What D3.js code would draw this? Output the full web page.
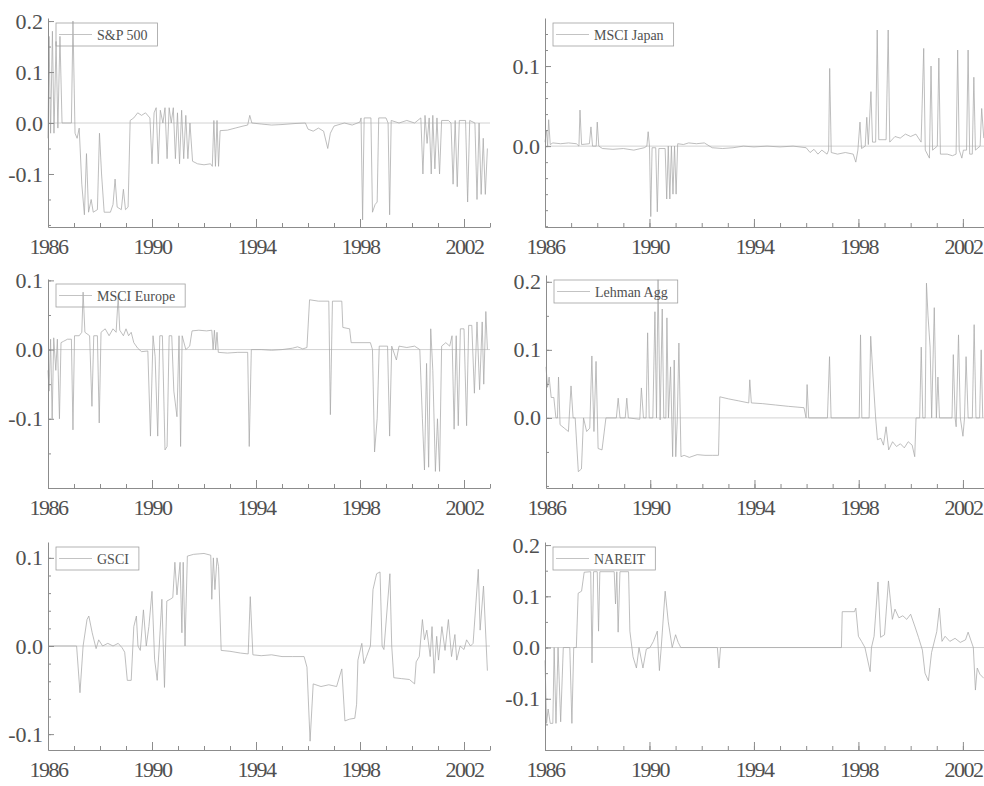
<!DOCTYPE html>
<head>
<meta charset="utf-8">
<style>

body { margin: 0; background: #fff; }
svg { display: block; }

.axis path, .axis line {
  stroke: #8c8c8c;
  stroke-width: 1px;
}

.zero {
  stroke: #d2d2d2;
  stroke-width: 1px;
}

.series {
  fill: none;
  stroke: #a8a8a8;
  stroke-width: 0.75px;
}

text {
  font-family: "Liberation Serif", "Times New Roman", serif;
  fill: #505050;
}

.legend rect {
  fill: none;
  stroke: #a0a0a0;
  stroke-width: 0.8px;
}

</style>
</head>

<body>
<script src="https://d3js.org/d3.v7.min.js"></script>

<script>
  // labelled years on every x axis, minor ticks every year
  var yearTicks = [1986, 1990, 1994, 1998, 2002];
  var yearMinor = d3.range(1986, 2004);

  var seriesNames = ["S&P 500", "MSCI Japan", "MSCI Europe", "Lehman Agg", "GSCI", "NAREIT"];

  // [year, value] pairs
  var sp500 = [
    [1986.00,-0.03],[1986.04,0.17],[1986.10,-0.02],[1986.17,0.18],[1986.23,-0.02],[1986.31,0.16],[1986.38,-0.01],
    [1986.46,0.17],[1986.54,0.0],[1986.62,0.0],[1986.90,0.0],[1986.96,0.2],[1987.04,-0.02],[1987.12,-0.03],
    [1987.2,-0.01],[1987.3,-0.12],[1987.4,-0.18],[1987.48,-0.06],[1987.56,-0.175],[1987.66,-0.15],[1987.74,-0.175],
    [1987.9,-0.17],[1987.98,-0.02],[1988.06,-0.1],[1988.16,-0.175],[1988.4,-0.175],[1988.5,-0.16],[1988.58,-0.11],
    [1988.66,-0.165],[1988.82,-0.17],[1988.9,-0.13],[1988.98,-0.17],[1989.08,-0.165],[1989.16,0.005],[1989.3,0.01],
    [1989.45,0.02],[1989.6,0.015],[1989.75,0.02],[1989.92,0.01],[1990.0,-0.08],[1990.08,0.02],[1990.16,0.03],
    [1990.24,-0.08],[1990.32,0.025],[1990.42,0.0],[1990.5,0.03],[1990.58,-0.07],[1990.66,0.03],[1990.74,0.0],
    [1990.82,0.03],[1990.9,-0.07],[1990.98,0.02],[1991.06,-0.08],[1991.14,0.025],[1991.22,-0.07],[1991.3,0.015],
    [1991.38,-0.07],[1991.46,0.0],[1991.56,-0.075],[1991.75,-0.08],[1992.0,-0.082],[1992.25,-0.08],[1992.32,-0.085],
    [1992.38,0.005],[1992.44,-0.085],[1992.5,0.005],[1992.56,-0.085],[1992.62,-0.015],[1992.9,-0.014],[1993.2,-0.01],
    [1993.5,-0.006],[1993.68,-0.004],[1993.76,0.015],[1993.84,0.0],[1994.2,-0.002],[1994.6,-0.004],[1995.0,-0.003],
    [1995.5,-0.001],[1995.9,0.0],[1996.0,-0.012],[1996.2,-0.016],[1996.4,-0.01],[1996.6,-0.016],[1996.76,-0.05],
    [1996.86,-0.02],[1997.0,-0.006],[1997.4,0.0],[1997.7,-0.004],[1998.0,0.002],[1998.04,0.01],[1998.1,-0.19],
    [1998.16,0.01],[1998.42,0.01],[1998.48,-0.175],[1998.58,-0.16],[1998.66,-0.155],[1998.72,0.01],[1999.0,0.01],
    [1999.08,0.0],[1999.14,-0.18],[1999.2,0.005],[1999.5,0.0],[1999.8,0.005],[2000.1,0.0],[2000.34,0.01],
    [2000.42,-0.1],[2000.5,0.015],[2000.58,-0.04],[2000.66,0.01],[2000.74,-0.1],[2000.8,0.015],[2000.88,-0.09],
    [2000.96,0.01],[2001.06,-0.1],[2001.14,0.005],[2001.4,0.005],[2001.5,0.0],[2001.58,-0.12],[2001.66,0.005],
    [2001.74,-0.125],[2001.82,0.005],[2002.06,0.005],[2002.14,-0.155],[2002.22,0.005],[2002.42,0.0],[2002.5,-0.15],
    [2002.58,0.0],[2002.66,-0.14],[2002.74,-0.03],[2002.82,-0.14],[2002.9,-0.05]
  ];

  var msciJapan = [
    [1986.0,0.005],[1986.06,0.02],[1986.1,0.0],[1986.14,0.033],[1986.2,0.002],[1986.3,0.004],[1986.6,0.003],
    [1986.9,0.004],[1987.2,0.003],[1987.3,0.0],[1987.34,0.045],[1987.4,0.002],[1987.7,0.003],[1987.76,0.024],
    [1987.82,0.0],[1987.96,0.0],[1988.0,0.03],[1988.06,0.0],[1988.2,-0.003],[1988.6,-0.004],[1989.0,-0.003],
    [1989.4,-0.005],[1989.8,-0.002],[1989.9,0.0],[1989.95,0.018],[1990.0,0.0],[1990.05,-0.088],[1990.1,-0.002],
    [1990.24,-0.002],[1990.3,-0.082],[1990.36,-0.003],[1990.6,-0.003],[1990.66,-0.066],[1990.72,0.0],[1990.78,-0.066],
    [1990.84,0.0],[1990.9,-0.06],[1990.96,0.0],[1991.02,-0.06],[1991.08,0.003],[1991.3,0.002],[1991.5,0.004],
    [1991.8,0.003],[1992.1,0.004],[1992.4,-0.002],[1992.8,-0.003],[1993.2,-0.002],[1993.6,0.0],[1994.0,-0.001],
    [1994.5,0.0],[1995.0,-0.001],[1995.5,0.0],[1996.0,-0.002],[1996.15,-0.008],[1996.3,-0.004],[1996.45,-0.01],
    [1996.6,-0.005],[1996.8,-0.01],[1996.86,-0.005],[1996.9,0.097],[1996.96,-0.008],[1997.2,-0.01],[1997.5,-0.008],
    [1997.8,-0.01],[1997.9,-0.02],[1997.98,-0.005],[1998.06,0.03],[1998.12,-0.003],[1998.26,0.0],[1998.32,0.036],
    [1998.38,0.002],[1998.48,0.068],[1998.54,0.005],[1998.66,0.005],[1998.72,0.145],[1998.78,0.008],[1999.06,0.008],
    [1999.14,0.145],[1999.2,0.005],[1999.4,0.012],[1999.6,0.01],[1999.8,0.015],[2000.0,0.012],[2000.2,0.015],
    [2000.4,0.005],[2000.5,0.122],[2000.56,-0.005],[2000.72,-0.015],[2000.78,0.1],[2000.84,-0.005],[2001.02,0.0],
    [2001.08,0.11],[2001.14,-0.01],[2001.4,-0.01],[2001.6,-0.012],[2001.74,-0.01],[2001.8,0.12],[2001.86,-0.005],
    [2001.96,-0.015],[2002.02,-0.005],[2002.14,-0.005],[2002.2,0.12],[2002.26,-0.01],[2002.36,-0.01],[2002.42,0.086],
    [2002.48,-0.005],[2002.66,0.0],[2002.72,0.047],[2002.8,0.01]
  ];

  var msciEurope = [
    [1986.0,-0.03],[1986.04,-0.06],[1986.1,0.015],[1986.16,-0.1],[1986.22,0.017],[1986.3,-0.03],[1986.36,0.015],
    [1986.44,-0.1],[1986.5,0.01],[1986.6,0.012],[1986.75,0.015],[1986.9,0.015],[1986.96,-0.116],[1987.02,0.02],
    [1987.2,0.02],[1987.3,0.025],[1987.35,0.083],[1987.42,0.025],[1987.6,0.02],[1987.69,-0.082],[1987.76,0.02],
    [1987.9,0.02],[1987.97,-0.106],[1988.04,0.025],[1988.2,0.03],[1988.35,0.02],[1988.5,0.03],[1988.62,0.025],
    [1988.7,0.077],[1988.76,0.028],[1988.9,0.02],[1989.0,0.03],[1989.1,0.02],[1989.2,0.025],[1989.3,0.01],
    [1989.45,0.002],[1989.6,-0.003],[1989.84,-0.002],[1989.94,-0.125],[1990.04,0.02],[1990.12,-0.01],
    [1990.22,-0.125],[1990.3,0.02],[1990.4,0.02],[1990.5,-0.145],[1990.58,-0.14],[1990.66,0.02],[1990.76,0.02],
    [1990.84,-0.06],[1990.96,-0.097],[1991.04,0.02],[1991.1,-0.14],[1991.16,0.02],[1991.3,0.0],[1991.45,0.005],
    [1991.54,0.027],[1991.8,0.028],[1992.1,0.027],[1992.3,0.028],[1992.35,0.0],[1992.4,0.028],[1992.45,0.0],
    [1992.5,0.025],[1992.55,-0.004],[1992.9,-0.005],[1993.3,-0.004],[1993.68,-0.004],[1993.74,-0.14],[1993.82,0.0],
    [1994.2,0.0],[1994.6,-0.001],[1995.0,0.0],[1995.4,0.002],[1995.6,0.004],[1995.8,0.001],[1995.96,0.003],
    [1996.06,0.072],[1996.4,0.07],[1996.8,0.07],[1996.86,-0.094],[1996.94,0.07],[1997.3,0.07],[1997.34,0.032],
    [1997.6,0.03],[1997.66,0.01],[1998.0,0.01],[1998.4,0.01],[1998.48,0.0],[1998.56,-0.148],[1998.66,-0.1],
    [1998.74,0.005],[1999.06,0.005],[1999.14,-0.125],[1999.22,0.005],[1999.4,-0.015],[1999.5,0.005],[1999.8,0.003],
    [2000.1,0.005],[2000.3,0.0],[2000.4,-0.1],[2000.48,-0.174],[2000.56,-0.02],[2000.64,-0.17],[2000.72,0.03],
    [2000.8,-0.03],[2000.9,-0.176],[2000.98,-0.1],[2001.06,-0.176],[2001.14,0.005],[2001.3,0.01],[2001.45,0.005],
    [2001.54,0.02],[2001.62,-0.115],[2001.7,0.02],[2001.78,-0.11],[2001.86,0.03],[2002.0,0.03],[2002.1,-0.11],
    [2002.18,0.035],[2002.3,0.035],[2002.4,-0.063],[2002.5,0.04],[2002.6,-0.058],[2002.7,0.04],[2002.76,-0.05],
    [2002.84,0.055],[2002.9,0.0]
  ];

  var lehmanAgg = [
    [1986.0,0.075],[1986.06,0.045],[1986.12,0.06],[1986.2,0.03],[1986.3,0.03],[1986.38,0.0],[1986.44,0.0],
    [1986.48,0.06],[1986.54,-0.01],[1986.7,-0.015],[1986.86,-0.02],[1986.96,0.047],[1987.04,0.0],[1987.12,0.0],
    [1987.24,-0.079],[1987.36,-0.075],[1987.44,0.0],[1987.56,-0.02],[1987.68,-0.015],[1987.76,0.091],[1987.84,-0.02],
    [1987.92,0.083],[1988.0,-0.045],[1988.15,-0.047],[1988.3,0.0],[1988.7,0.0],[1988.77,0.029],[1988.84,0.0],
    [1989.04,0.0],[1989.1,0.029],[1989.16,0.0],[1989.6,-0.002],[1989.66,0.044],[1989.74,0.0],[1989.84,0.0],
    [1989.9,0.125],[1989.96,0.0],[1990.1,0.0],[1990.18,0.156],[1990.24,0.0],[1990.3,0.203],[1990.38,-0.003],
    [1990.46,0.16],[1990.52,0.0],[1990.6,0.0],[1990.64,0.147],[1990.7,0.0],[1990.78,0.075],[1990.86,-0.057],
    [1990.92,0.085],[1990.98,-0.057],[1991.04,0.0],[1991.1,0.11],[1991.18,-0.057],[1991.3,-0.055],[1991.5,-0.058],
    [1991.8,-0.054],[1992.1,-0.055],[1992.4,-0.055],[1992.62,-0.055],[1992.67,0.031],[1993.0,0.028],[1993.4,0.025],
    [1993.78,0.022],[1993.82,0.056],[1993.88,0.022],[1994.3,0.021],[1994.8,0.019],[1995.3,0.017],[1995.9,0.015],
    [1995.98,0.0],[1996.02,0.049],[1996.08,0.0],[1996.8,0.0],[1996.88,0.09],[1996.94,0.0],[1998.02,0.0],
    [1998.07,0.122],[1998.12,0.0],[1998.4,0.0],[1998.46,0.12],[1998.55,0.06],[1998.65,0.0],[1998.72,-0.032],
    [1998.85,-0.03],[1998.95,-0.04],[1999.05,-0.013],[1999.15,-0.047],[1999.3,-0.035],[1999.45,-0.042],
    [1999.6,-0.038],[1999.75,-0.044],[1999.9,-0.035],[2000.05,-0.04],[2000.15,-0.057],[2000.2,0.0],[2000.34,0.0],
    [2000.4,0.104],[2000.46,0.0],[2000.55,0.0],[2000.6,0.198],[2000.66,0.15],[2000.74,0.104],[2000.8,0.0],
    [2000.9,0.162],[2000.98,0.0],[2001.04,0.06],[2001.1,0.0],[2001.58,0.0],[2001.63,0.093],[2001.7,0.0],
    [2001.74,-0.013],[2001.83,0.122],[2001.9,0.0],[2002.0,-0.027],[2002.06,0.0],[2002.12,0.09],[2002.2,0.0],
    [2002.36,0.0],[2002.43,0.137],[2002.5,0.0],[2002.64,0.0],[2002.7,0.1],[2002.76,0.0]
  ];

  var gsci = [
    [1986.0,0.0],[1987.1,0.0],[1987.23,-0.053],[1987.35,0.0],[1987.5,0.03],[1987.57,0.034],[1987.7,0.015],
    [1987.85,-0.003],[1987.95,0.007],[1988.1,0.0],[1988.3,0.003],[1988.5,0.0],[1988.7,0.003],[1988.85,-0.002],
    [1988.95,-0.007],[1989.05,-0.039],[1989.2,-0.039],[1989.3,0.022],[1989.4,0.034],[1989.46,0.0],[1989.55,-0.005],
    [1989.67,0.041],[1989.78,0.0],[1989.88,0.022],[1990.0,0.062],[1990.1,-0.015],[1990.2,-0.039],[1990.28,0.0],
    [1990.38,0.053],[1990.48,-0.047],[1990.57,0.051],[1990.7,0.053],[1990.8,0.055],[1990.88,0.095],[1990.96,0.058],
    [1991.08,0.095],[1991.15,0.015],[1991.2,0.095],[1991.27,0.0],[1991.36,0.102],[1991.6,0.104],[1992.0,0.105],
    [1992.26,0.103],[1992.3,0.053],[1992.36,0.1],[1992.42,0.064],[1992.5,0.1],[1992.56,0.09],[1992.66,-0.005],
    [1993.0,-0.006],[1993.4,-0.008],[1993.7,-0.009],[1993.78,0.056],[1993.88,-0.01],[1994.2,-0.011],[1994.6,-0.01],
    [1995.0,-0.012],[1995.4,-0.012],[1995.85,-0.012],[1995.96,-0.024],[1996.08,-0.108],[1996.2,-0.043],
    [1996.5,-0.046],[1996.8,-0.044],[1997.1,-0.046],[1997.3,-0.026],[1997.42,-0.085],[1997.6,-0.083],
    [1997.8,-0.082],[1997.87,-0.066],[1997.92,-0.016],[1998.07,0.003],[1998.15,-0.02],[1998.25,-0.012],
    [1998.4,0.0],[1998.5,0.064],[1998.64,0.082],[1998.77,0.084],[1998.85,0.0],[1998.92,-0.004],[1999.15,0.082],
    [1999.22,0.0],[1999.3,-0.036],[1999.6,-0.037],[1999.9,-0.038],[2000.1,-0.043],[2000.16,-0.018],[2000.28,-0.012],
    [2000.4,0.03],[2000.48,0.007],[2000.57,0.018],[2000.7,-0.012],[2000.77,0.022],[2000.85,-0.031],[2000.95,0.011],
    [2001.02,-0.016],[2001.15,0.022],[2001.27,-0.005],[2001.4,0.03],[2001.52,-0.012],[2001.65,0.013],
    [2001.72,-0.016],[2001.85,0.0],[2002.0,-0.004],[2002.1,0.007],[2002.25,0.0],[2002.35,0.003],[2002.55,0.087],
    [2002.62,0.018],[2002.75,0.068],[2002.9,-0.028]
  ];

  var nareit = [
    [1986.0,-0.025],[1986.06,-0.148],[1986.12,-0.12],[1986.2,-0.148],[1986.3,-0.148],[1986.35,0.0],[1986.42,-0.148],
    [1986.5,0.0],[1986.6,-0.145],[1986.7,0.0],[1986.95,0.0],[1987.03,-0.148],[1987.1,0.0],[1987.2,0.0],
    [1987.27,0.106],[1987.4,0.11],[1987.5,0.147],[1987.75,0.148],[1987.8,-0.03],[1987.86,0.148],[1988.0,0.148],
    [1988.05,0.032],[1988.1,0.148],[1988.65,0.148],[1988.7,0.085],[1988.75,0.148],[1988.8,0.03],[1988.87,0.148],
    [1989.2,0.148],[1989.25,0.032],[1989.37,-0.018],[1989.5,-0.04],[1989.6,0.0],[1989.75,-0.04],[1989.88,-0.003],
    [1990.02,0.0],[1990.15,0.012],[1990.3,0.032],[1990.38,-0.045],[1990.45,0.0],[1990.6,0.11],[1990.72,0.05],
    [1990.87,0.0],[1991.0,0.025],[1991.1,0.01],[1991.2,0.0],[1992.6,0.0],[1992.66,-0.04],[1992.72,0.0],
    [1997.35,0.0],[1997.38,0.07],[1997.85,0.07],[1997.9,0.077],[1998.0,0.022],[1998.12,0.012],[1998.25,0.0],
    [1998.45,-0.047],[1998.5,0.0],[1998.6,0.022],[1998.75,0.128],[1998.85,0.02],[1999.0,0.025],[1999.15,0.13],
    [1999.3,0.055],[1999.4,0.075],[1999.55,0.058],[1999.7,0.062],[1999.85,0.055],[2000.0,0.065],[2000.17,0.04],
    [2000.3,0.02],[2000.45,-0.005],[2000.55,-0.05],[2000.68,-0.065],[2000.8,-0.01],[2001.0,0.031],[2001.1,0.077],
    [2001.2,0.012],[2001.32,0.022],[2001.5,0.012],[2001.7,0.018],[2001.9,0.01],[2002.1,0.015],[2002.2,0.03],
    [2002.4,0.0],[2002.48,-0.083],[2002.55,-0.04],[2002.65,-0.052],[2002.8,-0.06]
  ];

  var width = 984,
      height = 786;

  var svg = d3.select("body")
    .append("svg")
      .attr("width", width)
      .attr("height", height);

  // panel frames (pixels), y domains and tick steps
  var panels = [
    { data: sp500,      left: 48,  right: 490, top: 18,  bottom: 227, ydom: [-0.204, 0.206], yticks: [-0.1, 0, 0.1, 0.2], minor: 0.05 },
    { data: msciJapan,  left: 545, right: 989, top: 18,  bottom: 227, ydom: [-0.101, 0.160], yticks: [0, 0.1],            minor: 0.02 },
    { data: msciEurope, left: 48,  right: 490, top: 279, bottom: 488, ydom: [-0.200, 0.102], yticks: [-0.1, 0, 0.1],      minor: 0.05 },
    { data: lehmanAgg,  left: 546, right: 989, top: 275, bottom: 488, ydom: [-0.103, 0.210], yticks: [0, 0.1, 0.2],       minor: 0.05 },
    { data: gsci,       left: 48,  right: 490, top: 542, bottom: 750, ydom: [-0.118, 0.118], yticks: [-0.1, 0, 0.1],      minor: 0.02 },
    { data: nareit,     left: 545, right: 989, top: 542, bottom: 750, ydom: [-0.200, 0.206], yticks: [-0.1, 0, 0.1, 0.2], minor: 0.05 }
  ];

  panels.forEach(function (p, i) {
    var xScale = d3.scaleLinear().domain([1986, 2003]).range([p.left, p.right]);
    var yScale = d3.scaleLinear().domain(p.ydom).range([p.bottom, p.top]);
    var g = svg.append("g");

    // zero reference line
    g.append("line")
        .classed("zero", true)
        .attr("x1", p.left)
        .attr("x2", p.right)
        .attr("y1", yScale(0))
        .attr("y2", yScale(0));

    // the series
    var line = d3.line()
        .x(function (d) { return xScale(d[0]); })
        .y(function (d) { return yScale(d[1]); });

    g.append("path")
        .classed("series", true)
        .attr("d", line(p.data));

    // x axis: minor ticks every year, labelled every 4 years, ticks point inward
    g.append("g")
        .classed("axis", true)
        .attr("transform", "translate(0," + p.bottom + ")")
        .call(d3.axisBottom(xScale).tickValues(yearMinor).tickSize(-4).tickSizeOuter(0).tickFormat(""));

    g.append("g")
        .classed("axis", true)
        .attr("transform", "translate(0," + p.bottom + ")")
        .call(d3.axisBottom(xScale).tickValues(yearTicks).tickSize(-8).tickPadding(11).tickFormat(d3.format("d")))
        .call(function (a) { a.select(".domain").remove(); })
        .selectAll("text")
          .attr("font-family", null)
          .style("font-size", "22px")
          .style("letter-spacing", "-1.5px");

    // y axis
    var yMinor = d3.range(Math.ceil(p.ydom[0] / p.minor) * p.minor, p.ydom[1], p.minor);

    g.append("g")
        .classed("axis", true)
        .attr("transform", "translate(" + p.left + ",0)")
        .call(d3.axisLeft(yScale).tickValues(yMinor).tickSize(-3).tickSizeOuter(0).tickFormat(""));

    g.append("g")
        .classed("axis", true)
        .attr("transform", "translate(" + p.left + ",0)")
        .call(d3.axisLeft(yScale).tickValues(p.yticks).tickSize(-6).tickPadding(5)
              .tickFormat(function (d) { return d.toFixed(1); }))
        .call(function (a) { a.select(".domain").remove(); })
        .selectAll("text")
          .style("font-size", "22px");

    svg.selectAll(".axis").attr("font-family", null);

    // legend box
    var lg = g.append("g")
        .classed("legend", true)
        .attr("transform", "translate(" + (p.left + 8) + "," + (p.top + 5) + ")");

    var label = lg.append("text")
        .attr("x", 41)
        .attr("y", 16.5)
        .style("font-size", "14px")
        .text(seriesNames[i]);

    var tw = label.node().getComputedTextLength();

    lg.insert("rect", "text")
        .attr("width", 41 + tw + 10)
        .attr("height", 23);

    lg.append("line")
        .attr("x1", 3)
        .attr("x2", 36)
        .attr("y1", 11.5)
        .attr("y2", 11.5)
        .style("stroke", "#b4b4b4")
        .style("stroke-width", "0.8px");
  });

</script>
